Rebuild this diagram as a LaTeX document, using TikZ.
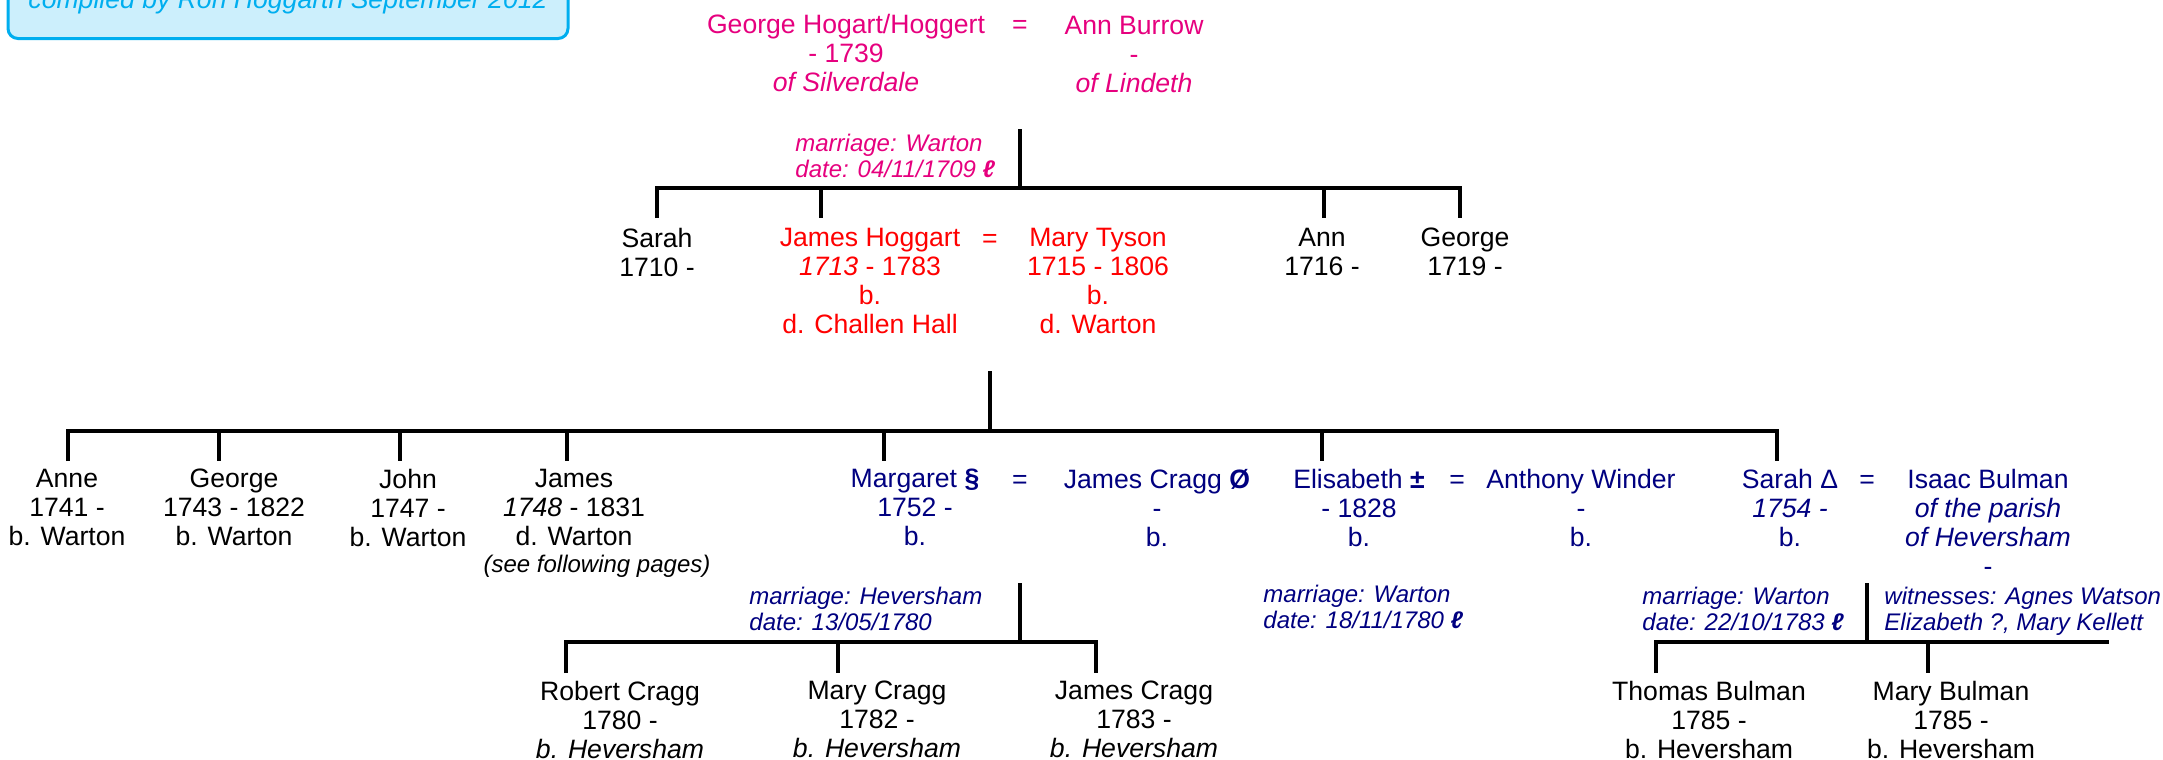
\documentclass[tikz,border=0pt]{standalone}
\usepackage{fontspec}
\setmainfont{Liberation Sans}
\usepackage{tikz}
\definecolor{famPink}{HTML}{E6007E}
\definecolor{famRed}{HTML}{FF0000}
\definecolor{famNavy}{HTML}{000080}
\definecolor{boxBlue}{HTML}{00AEEF}
\definecolor{boxFill}{HTML}{CCEFFC}
\tikzset{person/.style={align=center,inner sep=0pt,anchor=north,font=\fontsize{13.3pt}{14.5pt}\selectfont}}
\tikzset{eqsign/.style={inner sep=0pt,anchor=base,font=\fontsize{13.3pt}{14.5pt}\selectfont}}
\tikzset{note/.style={align=left,inner sep=0pt,anchor=north west,font=\fontsize{12pt}{12.75pt}\selectfont\itshape}}
\tikzset{infobox/.style={draw=boxBlue,fill=boxFill,text=boxBlue,line width=1.5pt,rounded corners=5pt,minimum width=280pt,inner ysep=12pt,anchor=base,font=\fontsize{13.3pt}{14.5pt}\selectfont\itshape}}
\tikzset{treeline/.style={line width=1.75pt}}

\begin{document}
\begin{tikzpicture}[x=0.5pt,y=-0.5pt]
        \useasboundingbox (0,0) rectangle (2163,760);

        \node[infobox] (compiled) at (288,9) {compiled by Ron Hoggarth September 2012};

        % first generation
        \node[person,text=famPink] (george_h) at (846,14) {George Hogart/Hoggert\\- 1739\\\textit{of Silverdale}};
        \node[eqsign,text=famPink] (eq_1) at (1020,33) {=};
        \node[person,text=famPink] (ann_b) at (1134,16) {Ann Burrow\\-\\\textit{of Lindeth}};
        \node[note,text=famPink] (marr_1) at (795,134) {marriage: Warton\\date: 04/11/1709 \textbf{ℓ}};

        \coordinate (drop_1) at (1020,129);
        \coordinate (bar_1) at (1020,188);
        \draw[treeline] (drop_1) -- (bar_1);
        \draw[treeline] (657,218) -- (657,188) -- (1460,188) -- (1460,218);
        \foreach \x in {821,1324} \draw[treeline] (\x,188) -- (\x,218);

        % second generation
        \node[person] (sarah_1) at (657,228) {Sarah\\1710 -};
        \node[person,text=famRed] (james_h) at (870,228) {James Hoggart\\\textit{1713} - 1783\\b.\\d. Challen Hall};
        \node[eqsign,text=famRed] (eq_2) at (990,247) {=};
        \node[person,text=famRed] (mary_t) at (1098,228) {Mary Tyson\\1715 - 1806\\b.\\d. Warton};
        \node[person] (ann_1) at (1322,228) {Ann\\1716 -};
        \node[person] (george_1) at (1465,228) {George\\1719 -};

        \coordinate (drop_2) at (990,371);
        \coordinate (bar_2) at (990,431);
        \draw[treeline] (drop_2) -- (bar_2);
        \draw[treeline] (68,461) -- (68,431) -- (1777,431) -- (1777,461);
        \foreach \x in {219,400,567,884,1322} \draw[treeline] (\x,431) -- (\x,461);

        % third generation
        \node[person] (anne) at (67,469) {Anne\\1741 -\\b. Warton};
        \node[person] (george_2) at (234,469) {George\\1743 - 1822\\b. Warton};
        \node[person] (john) at (408,469) {John\\1747 -\\b. Warton};
        \node[person] (james_2) at (574,469) {James\\\textit{1748} - 1831\\d. Warton};
        \node[note,anchor=north] (james_note) at (597,555) {(see following pages)};

        \node[person,text=famNavy] (margaret) at (915,469) {Margaret \textbf{§}\\1752 -\\b.};
        \node[eqsign,text=famNavy] (eq_3) at (1020,488) {=};
        \node[person,text=famNavy] (james_c) at (1157,469) {James Cragg \textbf{Ø}\\-\\b.};
        \node[person,text=famNavy] (elisabeth) at (1359,469) {Elisabeth \textbf{±}\\- 1828\\b.};
        \node[eqsign,text=famNavy] (eq_4) at (1457,488) {=};
        \node[person,text=famNavy] (anthony_w) at (1581,469) {Anthony Winder\\-\\b.};
        \node[person,text=famNavy] (sarah_2) at (1790,469) {Sarah Δ\\\textit{1754 -}\\b.};
        \node[eqsign,text=famNavy] (eq_5) at (1867,488) {=};
        \node[person,text=famNavy] (isaac_b) at (1988,469) {Isaac Bulman\\\textit{of the parish}\\\textit{of Heversham}\\-};

        \node[note,text=famNavy] (marr_2) at (749,587) {marriage: Heversham\\date: 13/05/1780};
        \node[note,text=famNavy] (marr_3) at (1263,585) {marriage: Warton\\date: 18/11/1780 \textbf{ℓ}};
        \node[note,text=famNavy] (marr_4) at (1642,587) {marriage: Warton\\date: 22/10/1783 \textbf{ℓ}};
        \node[note,text=famNavy] (witness) at (1884,587) {witnesses: Agnes Watson\\Elizabeth ?, Mary Kellett};

        \coordinate (drop_3) at (1020,583);
        \coordinate (bar_3) at (1020,642);
        \draw[treeline] (drop_3) -- (bar_3);
        \draw[treeline] (566,673) -- (566,642) -- (1096,642) -- (1096,673);
        \draw[treeline] (838,642) -- (838,673);

        \coordinate (drop_4) at (1867,583);
        \coordinate (bar_4) at (1867,642);
        \draw[treeline] (drop_4) -- (bar_4);
        \draw[treeline] (1656,673) -- (1656,642) -- (2109,642);
        \draw[treeline] (1928,642) -- (1928,673);

        % fourth generation
        \node[person] (robert_c) at (620,681) {Robert Cragg\\1780 -\\\textit{b. Heversham}};
        \node[person] (mary_c) at (877,681) {Mary Cragg\\1782 -\\\textit{b. Heversham}};
        \node[person] (james_c2) at (1134,681) {James Cragg\\1783 -\\\textit{b. Heversham}};
        \node[person] (thomas_b) at (1709,681) {Thomas Bulman\\1785 -\\b. Heversham};
        \node[person] (mary_b) at (1951,681) {Mary Bulman\\1785 -\\b. Heversham};
    \end{tikzpicture}
\end{document}
